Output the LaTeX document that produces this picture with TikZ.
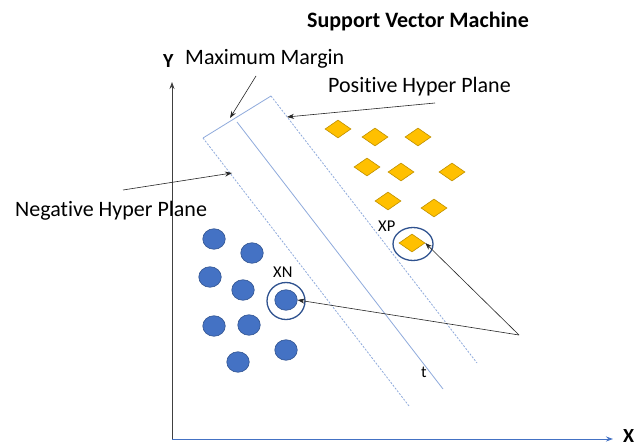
\documentclass[tikz,border=0pt]{standalone}
\usepackage{fontspec}
\setmainfont{Carlito}[Ligatures={NoCommon}]
\usetikzlibrary{arrows.meta,shapes.geometric}

\definecolor{goldfill}{HTML}{FFC000}
\definecolor{golddraw}{HTML}{BF9000}
\definecolor{bluefill}{HTML}{4472C4}
\definecolor{bluedraw}{HTML}{2F528F}
\definecolor{planeblue}{HTML}{8FAADC}
\definecolor{axisblue}{HTML}{4472C4}
\definecolor{axisgray}{HTML}{404040}

\tikzset{
  posdot/.style={diamond, fill=goldfill, draw=golddraw, line width=0.6pt,
    minimum width=26pt, minimum height=18pt, inner sep=0pt},
  negdot/.style={ellipse, fill=bluefill, draw=bluedraw, line width=0.6pt,
    minimum width=22.5pt, minimum height=20.5pt, inner sep=0pt},
  ringmark/.style={ellipse, draw=bluedraw, line width=1.3pt, inner sep=0pt},
  bigtxt/.style={font=\fontsize{22}{24}\selectfont, inner sep=0pt, anchor=base west},
  smalltxt/.style={font=\fontsize{16.5}{18}\selectfont, inner sep=0pt, anchor=base west},
  axistxt/.style={font=\bfseries\fontsize{20}{22}\selectfont, inner sep=0pt, anchor=base west},
  planeline/.style={planeblue, line width=0.8pt},
  dplaneline/.style={planeblue, line width=0.8pt, dash pattern=on 2pt off 1.5pt},
  pointer/.style={black!85, line width=0.6pt, -{Stealth[length=7pt,width=5pt]}},
}

\begin{document}
\begin{tikzpicture}[x=1pt,y=-1pt]
\useasboundingbox (0,0) rectangle (644,446);
\fill[white] (0,0) rectangle (644,446);

% title and axes
\node[font=\bfseries\fontsize{22}{24}\selectfont, inner sep=0pt, anchor=base] (title) at (418,28) {Support Vector Machine};
\coordinate (origin) at (172,439);
\coordinate (ytop) at (172,82);
\coordinate (xend) at (613,439);
\draw[axisgray, line width=0.8pt, -{Stealth[length=7pt,width=5pt]}] (origin) -- (ytop);
\draw[axisblue, line width=1pt, -{Stealth[length=7pt,width=5pt]}] (origin) -- (xend);
\node[axistxt] (ylab) at (163,68) {Y};
\node[axistxt] (xlab) at (623,442) {X};

% margin band: hyper planes
\coordinate (ntop) at (203,138);
\coordinate (nbot) at (409,406);
\coordinate (ptop) at (271,96);
\coordinate (pbot) at (477,363);
\coordinate (mtop) at (237,122);
\coordinate (mbot) at (443,389);
\draw[planeline] (ntop) -- (ptop);
\draw[planeline] (mtop) -- (mbot);
\draw[dplaneline] (ntop) -- (nbot);
\draw[dplaneline] (ptop) -- (pbot);

% positive class
\node[posdot] (p1) at (338,129) {};
\node[posdot] (p2) at (375,137) {};
\node[posdot] (p3) at (418,137) {};
\node[posdot] (p4) at (367,167) {};
\node[posdot] (p5) at (401,172) {};
\node[posdot] (p6) at (452,172) {};
\node[posdot] (p7) at (388,201) {};
\node[posdot] (p8) at (434,208) {};
\node[posdot] (xp) at (412,243) {};
\node[ringmark, minimum width=40pt, minimum height=33pt] (xpring) at (413,244) {};

% negative class
\node[negdot] (n1) at (214,239) {};
\node[negdot] (n2) at (252,253) {};
\node[negdot] (n3) at (210,277) {};
\node[negdot] (n4) at (243,290) {};
\node[negdot] (xn) at (286,300) {};
\node[negdot] (n5) at (214,326) {};
\node[negdot] (n6) at (249,325) {};
\node[negdot] (n7) at (286,350) {};
\node[negdot] (n8) at (238,362) {};
\node[ringmark, minimum width=38pt, minimum height=37pt] (xnring) at (286,301) {};

% texts
\node[bigtxt] (mmlab) at (185,65) {Maximum Margin};
\node[bigtxt] (pplab) at (328,93) {Positive Hyper Plane};
\node[bigtxt] (nplab) at (15,216) {Negative Hyper Plane};
\node[smalltxt] (xplab) at (378,231) {XP};
\node[smalltxt] (xnlab) at (273,277) {XN};
\node[smalltxt] (tlab) at (421,377) {t};

% pointers
\coordinate (mmfrom) at (256,76);
\coordinate (mmto) at (230,118);
\coordinate (ppfrom) at (435,103);
\coordinate (ppto) at (287,117);
\coordinate (npfrom) at (123,190);
\coordinate (npto) at (232,173);
\coordinate (sv) at (519,335);
\draw[pointer] (mmfrom) -- (mmto);
\draw[pointer] (ppfrom) -- (ppto);
\draw[pointer] (npfrom) -- (npto);
\draw[pointer] (sv) -- (xn.east);
\draw[pointer] (sv) -- (xp.east);
\end{tikzpicture}
\end{document}
